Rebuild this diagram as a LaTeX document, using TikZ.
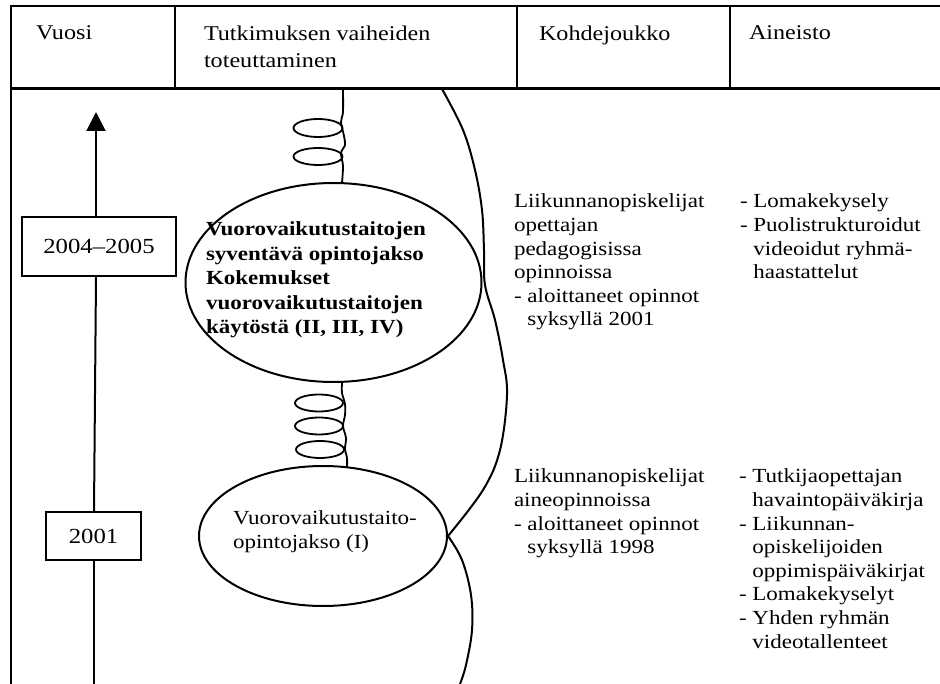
\documentclass[tikz,border=0pt]{standalone}
\usepackage{fontspec}
\setmainfont{Liberation Serif}[FakeStretch=1.15]
\usetikzlibrary{shapes.geometric,arrows.meta}
\begin{document}
\begin{tikzpicture}[x=1pt,y=-1pt, line width=2pt,
  txt/.style={font=\fontsize{20}{23.6}\selectfont, align=left, anchor=north west, inner sep=0pt},
  hdr/.style={font=\fontsize{21}{27}\selectfont, align=left, anchor=north west, inner sep=0pt},
  yearbox/.style={draw, rectangle, inner sep=0pt, font=\fontsize{21.5}{24}\selectfont},
  oval/.style={draw, ellipse, inner sep=0pt},
  coil/.style={line width=1.8pt},
]
\useasboundingbox (0,0) rectangle (940,684);
% table frame
\draw (11,684) -- (11,6) -- (940,6);
\draw[line width=3pt] (11,89) -- (940,89);
\foreach \x in {175,517,730} \draw (\x,6) -- (\x,89);
% header
\node[hdr] (h1) at (35,25) {Vuosi};
\node[hdr] (h2) at (203,25) {Tutkimuksen vaiheiden\\toteuttaminen};
\node[hdr] (h3) at (538,25) {Kohdejoukko};
\node[hdr] (h4) at (748,25) {Aineisto};
% timeline
\node[yearbox, minimum width=154pt, minimum height=59pt] (y2) at (99,246.5) {2004–2005};
\node[yearbox, minimum width=95pt, minimum height=48pt] (y1) at (93.5,536) {2001};
\coordinate (tip) at (96,112);
\coordinate (bot) at (94,684);
\draw (bot) -- (y1.south -| bot);
\draw (y1.north -| bot) -- (y2.south -| tip);
\draw[-{Triangle[length=19pt,width=19pt]}] (y2.north -| tip) -- (tip);
% ellipses
\node[oval, minimum width=296pt, minimum height=199pt] (e1) at (333.5,282.5) {};
\node[oval, minimum width=248pt, minimum height=140pt] (e2) at (323,536) {};
\node[txt, font=\bfseries\fontsize{20}{24.5}\selectfont] (t1) at (205,221) {Vuorovaikutustaitojen\\syventävä opintojakso\\Kokemukset\\vuorovaikutustaitojen\\käytöstä (II, III, IV)};
\node[txt] (t2) at (232,510) {Vuorovaikutustaito-\\opintojakso (I)};
% coils
\draw[coil] plot[smooth] coordinates {(343,89) (343,112) (341,122) (344,136) (345,145) (341,153) (343,166) (342,183)};
\draw[coil] (318,128) ellipse [x radius=24.5, y radius=9];
\draw[coil] (318,156.5) ellipse [x radius=24.5, y radius=8.5];
\draw[coil] plot[smooth] coordinates {(342,383) (342,393) (345,404) (345,415) (343,426) (346,438) (345,449) (347,458) (347,467)};
\draw[coil] (319,403) ellipse [x radius=24, y radius=8.5];
\draw[coil] (319,426) ellipse [x radius=24, y radius=8.5];
\draw[coil] (320,449.5) ellipse [x radius=24, y radius=8.5];
% big curves
\draw plot[smooth, tension=0.6] coordinates {(442,89) (463,130) (475,170) (482,210) (484,250) (485,285) (495,320) (503,360) (507,395) (500,450) (483,490) (e2.east)};
\draw plot[smooth, tension=0.6] coordinates {(e2.east) (462,560) (471,595) (472,630) (466,665) (460,684)};
% texts
\node[txt] (k1) at (513,193) {Liikunnanopiskelijat\\opettajan\\pedagogisissa\\opinnoissa\\- aloittaneet opinnot\\\phantom{- }syksyllä 2001};
\node[txt] (a1) at (739,193) {- Lomakekysely\\- Puolistrukturoidut\\\phantom{- }videoidut ryhmä-\\\phantom{- }haastattelut};
\node[txt] (k2) at (513,468) {Liikunnanopiskelijat\\aineopinnoissa\\- aloittaneet opinnot\\\phantom{- }syksyllä 1998};
\node[txt] (a2) at (738,468) {- Tutkijaopettajan\\\phantom{- }havaintopäiväkirja\\- Liikunnan-\\\phantom{- }opiskelijoiden\\\phantom{- }oppimispäiväkirjat\\- Lomakekyselyt\\- Yhden ryhmän\\\phantom{- }videotallenteet};
\end{tikzpicture}
\end{document}
